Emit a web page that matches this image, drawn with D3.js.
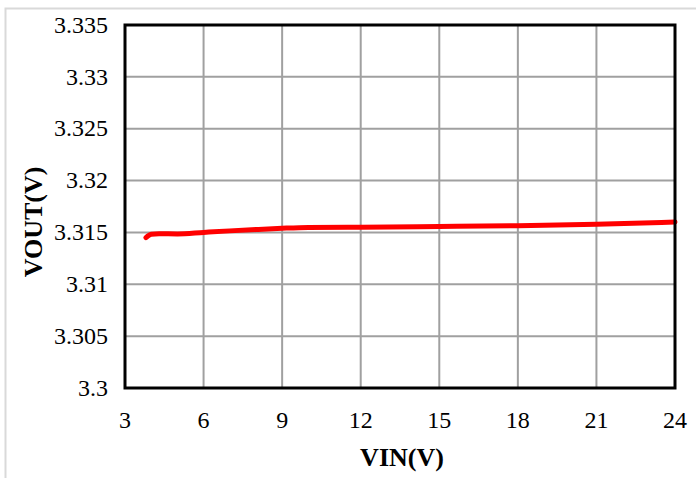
<!DOCTYPE html>
<html>
<head>
<meta charset="utf-8">
<script src="https://cdn.jsdelivr.net/npm/d3@7"></script>
<style>
  body { margin: 0; background: #fff; font-family: "Liberation Serif", serif; }
  svg { display: block; }
</style>
</head>
<body>
<div id="chart"></div>
<script>
// measured VIN (V) vs VOUT (V)
const vin  = [3.8, 4.0, 4.3, 5, 6, 7, 8, 9, 10, 12, 15, 18, 21, 24];
const vout = [3.3145, 3.31482, 3.31488, 3.31485, 3.31500, 3.31515, 3.31528, 3.31540, 3.31548, 3.31550, 3.31558, 3.31565, 3.31580, 3.31600];

const xTicks = [3, 6, 9, 12, 15, 18, 21, 24];
const yTicks = [3.3, 3.305, 3.31, 3.315, 3.32, 3.325, 3.33, 3.335];

const width = 696, height = 478;
const margin = {top: 25, right: 21, bottom: 90, left: 125};
const serif = "Liberation Serif";

const svg = d3.select("#chart").append("svg")
    .attr("width", width)
    .attr("height", height)
    .style("font-family", serif);

// outer light frame
svg.append("rect")
    .attr("x", 5.5).attr("y", 8.5)
    .attr("width", width).attr("height", height)
    .attr("fill", "none")
    .attr("stroke", "#d9d9d9")
    .attr("stroke-width", 2);

const x = d3.scaleLinear().domain([3, 24]).range([margin.left, width - margin.right]);
const y = d3.scaleLinear().domain([3.3, 3.335]).range([height - margin.bottom, margin.top]);

// grid
svg.append("g")
    .selectAll("line")
    .data(xTicks)
    .join("line")
        .attr("x1", d => x(d)).attr("x2", d => x(d))
        .attr("y1", y(3.3)).attr("y2", y(3.335))
        .attr("stroke", "#a0a0a0")
        .attr("stroke-width", 2);

svg.append("g")
    .selectAll("line")
    .data(yTicks)
    .join("line")
        .attr("x1", x(3)).attr("x2", x(24))
        .attr("y1", d => y(d)).attr("y2", d => y(d))
        .attr("stroke", "#a0a0a0")
        .attr("stroke-width", 2);

// tick labels
svg.append("g")
    .selectAll("text")
    .data(yTicks)
    .join("text")
        .style("font-family", serif)
        .style("font-size", "24px")
        .attr("x", x(3) - 17)
        .attr("y", d => y(d))
        .attr("dy", "0.32em")
        .attr("text-anchor", "end")
        .text(d => +d.toFixed(3));

svg.append("g")
    .selectAll("text")
    .data(xTicks)
    .join("text")
        .style("font-family", serif)
        .style("font-size", "24px")
        .attr("x", d => x(d))
        .attr("y", y(3.3) + 40)
        .attr("text-anchor", "middle")
        .text(d => d);

// data line
const line = d3.line()
    .x((d, i) => x(vin[i]))
    .y(d => y(d))
    .curve(d3.curveMonotoneX);

svg.append("path")
    .datum(vout)
    .attr("d", line)
    .attr("fill", "none")
    .attr("stroke", "#ff0000")
    .attr("stroke-width", 5)
    .attr("stroke-linecap", "round");

// plot frame
svg.append("rect")
    .attr("x", x(3)).attr("y", y(3.335))
    .attr("width", x(24) - x(3))
    .attr("height", y(3.3) - y(3.335))
    .attr("fill", "none")
    .attr("stroke", "#000")
    .attr("stroke-width", 3);

// axis titles
svg.append("text")
    .style("font-family", serif)
    .style("font-weight", "bold")
    .style("font-size", "26px")
    .attr("x", 402)
    .attr("y", 466)
    .attr("text-anchor", "middle")
    .text("VIN(V)");

svg.append("text")
    .style("font-family", serif)
    .style("font-weight", "bold")
    .style("font-size", "26px")
    .attr("transform", "translate(42,222) rotate(-90)")
    .attr("text-anchor", "middle")
    .text("VOUT(V)");
</script>
</body>
</html>
